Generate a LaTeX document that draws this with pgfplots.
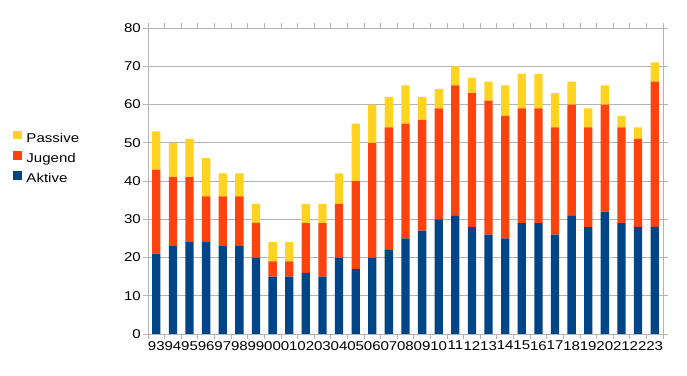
\documentclass[border=0pt]{standalone}
\usepackage{fontspec}
\setmainfont{Liberation Sans}[FakeStretch=1.18]
\usepackage{pgfplots}
\usepackage{pgfplotstable}
\pgfplotsset{compat=1.18}
\definecolor{cA}{HTML}{004586}
\definecolor{cJ}{HTML}{FF420E}
\definecolor{cP}{HTML}{FFD320}
\definecolor{gridc}{HTML}{B3B3B3}
\pgfplotstableread{
x lab A J P
0 93 21 22 10
1 94 23 18 9
2 95 24 17 10
3 96 24 12 10
4 97 23 13 6
5 98 23 13 6
6 99 20 9 5
7 00 15 4 5
8 01 15 4 5
9 02 16 13 5
10 03 15 14 5
11 04 20 14 8
12 05 17 23 15
13 06 20 30 10
14 07 22 32 8
15 08 25 30 10
16 09 27 29 6
17 10 30 29 5
18 11 31 34 5
19 12 28 35 4
20 13 26 35 5
21 14 25 32 8
22 15 29 30 9
23 16 29 30 9
24 17 26 28 9
25 18 31 29 6
26 19 28 26 5
27 20 32 28 5
28 21 29 25 3
29 22 28 23 3
30 23 28 38 5
}\data
\begin{document}
\begin{tikzpicture}
\useasboundingbox (0,0) rectangle (687bp,376bp);
\begin{axis}[
  at={(148bp,42bp)}, anchor=south west,
  scale only axis, width=515bp, height=306bp,
  ybar stacked, bar width=0.5,
  xmin=-0.5, xmax=30.5, ymin=0, ymax=80,
  ytick={0,10,...,80},
  xtick={0,...,30},
  xticklabels={93,94,95,96,97,98,99,00,01,02,03,04,05,06,07,08,09,10,11,12,13,14,15,16,17,18,19,20,21,22,23},
  minor xtick={-0.5,0.5,...,30.5},
  major x tick style={draw=none},
  minor x tick style={gridc, line width=0.8pt},
  y tick style={gridc, line width=0.8pt},
  tick align=outside,
  minor tick length=5bp, major tick length=5bp,
  ymajorgrids, grid style={gridc, line width=0.8pt},
  axis line style={gridc, line width=0.8pt},
  /pgf/number format/assume math mode=true,
  tick label style={font=\fontsize{12.8}{15}\selectfont, black},
  xticklabel style={inner sep=1bp, yshift=-1bp},
  yticklabel style={inner sep=2bp},
  legend style={at={(-0.2616,0.665)}, anchor=north west, draw=none, fill=none,
    font=\fontsize{12.8}{15}\selectfont, row sep=5.5bp, inner sep=0pt,
    nodes={inner sep=0pt, text height=9bp, text depth=3bp}},
  legend cell align=left,
  reverse legend,
  legend image code/.code={\fill[#1] (0bp,0bp) rectangle (8.7bp,8.7bp); \path (13bp,0bp);},
]
\addplot[draw=none, fill=cA] table[x=x, y=A] {\data};
\addlegendentry{Aktive}
\addplot[draw=none, fill=cJ] table[x=x, y=J] {\data};
\addlegendentry{Jugend}
\addplot[draw=none, fill=cP] table[x=x, y=P] {\data};
\addlegendentry{Passive}
\end{axis}
\end{tikzpicture}
\end{document}
